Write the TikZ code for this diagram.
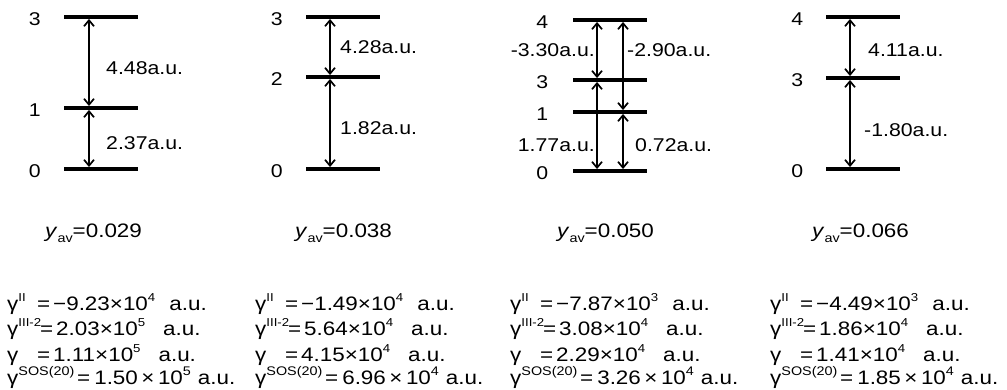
\documentclass[tikz,border=0pt]{standalone}
\usepackage{fontspec}
\setmainfont{Liberation Sans}[FakeStretch=1.15]
\usepackage{tikz}
\usetikzlibrary{arrows.meta,positioning}
\newcommand{\hi}[2][11.5]{\raisebox{0.42em}{\fontsize{#1}{#1}\selectfont #2}}
\newcommand{\lo}[1]{\raisebox{-0.25em}{\fontsize{12.5}{12.5}\selectfont #1}}
\newcommand{\gleft}[2][30pt]{\makebox[#1][l]{#2}\makebox[16pt][l]{=}}

\begin{document}
\begin{tikzpicture}[x=1pt, y=-1pt,
  lvl/.style={fill=black, inner sep=0pt, minimum width=74pt, minimum height=3.5pt},
  num/.style={font=\fontsize{18.5}{20}\selectfont, inner sep=0pt, yshift=-2.5pt},
  arr/.style={{Straight Barb[length=6pt,width=10pt]}-{Straight Barb[length=6pt,width=10pt]}, line width=1.7pt},
  val/.style={font=\fontsize{18.5}{20}\selectfont, inner sep=0pt, anchor=west},
  yav/.style={font=\fontsize{19.5}{20}\selectfont, inner sep=0pt, anchor=base west},
  gam/.style={font=\fontsize{19.5}{20}\selectfont, inner sep=0pt, anchor=base west},
  sos/.style={gam, font=\fontsize{19.5}{20}\selectfont}
]
  \useasboundingbox (0,0) rectangle (1007,390);

  % first scheme: 0 - 1 - 3
  \node[lvl] (a3) at (101,17) {};
  \node[lvl] (a1) at (101,108) {};
  \node[lvl] (a0) at (101,169) {};
  \node[num, left=23pt of a3] (na3) {3};
  \node[num, left=23pt of a1] (na1) {1};
  \node[num, left=23pt of a0] (na0) {0};
  \coordinate (ax) at (89,0);
  \draw[arr] (a3.south -| ax) -- (a1.north -| ax);
  \draw[arr] (a1.south -| ax) -- (a0.north -| ax);
  \node[val] (a31) at (106,68) {4.48a.u.};
  \node[val] (a10) at (106,143) {2.37a.u.};

  % second scheme: 0 - 2 - 3
  \node[lvl] (b3) at (343,17) {};
  \node[lvl] (b2) at (343,77) {};
  \node[lvl] (b0) at (343,169) {};
  \node[num, left=23pt of b3] (nb3) {3};
  \node[num, left=23pt of b2] (nb2) {2};
  \node[num, left=23pt of b0] (nb0) {0};
  \coordinate (bx) at (330,0);
  \draw[arr] (b3.south -| bx) -- (b2.north -| bx);
  \draw[arr] (b2.south -| bx) -- (b0.north -| bx);
  \node[val] (b32) at (340,47) {4.28a.u.};
  \node[val] (b20) at (340,128) {1.82a.u.};

  % third scheme: 0 - 1 - 3 - 4
  \node[lvl] (c4) at (609.5,20) {};
  \node[lvl] (c3) at (609.5,80) {};
  \node[lvl] (c1) at (609.5,112) {};
  \node[lvl] (c0) at (609.5,171) {};
  \node[num, left=24pt of c4] (nc4) {4};
  \node[num, left=24pt of c3] (nc3) {3};
  \node[num, left=24pt of c1] (nc1) {1};
  \node[num, left=24pt of c0] (nc0) {0};
  \coordinate (cx) at (597,0);
  \coordinate (cy) at (623,0);
  \draw[arr] (c4.south -| cx) -- (c3.north -| cx);
  \draw[arr] (c3.south -| cx) -- (c0.north -| cx);
  \draw[arr] (c4.south -| cy) -- (c1.north -| cy);
  \draw[arr] (c1.south -| cy) -- (c0.north -| cy);
  \node[val, anchor=east] (c43) at (595,50) {-3.30a.u.};
  \node[val] (c41) at (627,50) {-2.90a.u.};
  \node[val, anchor=east] (c30) at (595,145) {1.77a.u.};
  \node[val] (c10) at (635,145) {0.72a.u.};

  % fourth scheme: 0 - 3 - 4
  \node[lvl] (d4) at (862.5,17) {};
  \node[lvl] (d3) at (862.5,78) {};
  \node[lvl] (d0) at (862.5,169) {};
  \node[num, left=22pt of d4] (nd4) {4};
  \node[num, left=22pt of d3] (nd3) {3};
  \node[num, left=22pt of d0] (nd0) {0};
  \coordinate (dx) at (850,0);
  \draw[arr] (d4.south -| dx) -- (d3.north -| dx);
  \draw[arr] (d3.south -| dx) -- (d0.north -| dx);
  \node[val] (d43) at (868,50) {4.11a.u.};
  \node[val] (d30) at (864,130) {-1.80a.u.};

  % averaged y values
  \node[yav] (ya) at (45,238) {\textit{y}\lo{av}=0.029};
  \node[yav] (yb) at (295,238) {\textit{y}\lo{av}=0.038};
  \node[yav] (yc) at (557,238) {\textit{y}\lo{av}=0.050};
  \node[yav] (yd) at (812,238) {\textit{y}\lo{av}=0.066};

  % gamma values
  \node[gam] (ga1) at (7,310) {\gleft{γ\hi{II}}−9.23×10\hi{4}\hspace{14pt}a.u.};
  \node[gam] (ga2) at (7,335) {\gleft[33pt]{γ\hi{III-2}}2.03×10\hi{5}\hspace{18pt}a.u.};
  \node[gam] (ga3) at (7,361) {\gleft{γ}1.11×10\hi{5}\hspace{18pt}a.u.};
  \node[sos] (ga4) at (7,384) {\makebox[70pt][l]{γ\hi[12.5]{SOS(20)}}=\hspace{4pt}1.50\hspace{3.5pt}×\hspace{3.5pt}10\hi[12.5]{5}\hspace{7pt}a.u.};

  \node[gam] (gb1) at (255,310) {\gleft{γ\hi{II}}−1.49×10\hi{4}\hspace{14pt}a.u.};
  \node[gam] (gb2) at (255,335) {\gleft[33pt]{γ\hi{III-2}}5.64×10\hi{4}\hspace{18pt}a.u.};
  \node[gam] (gb3) at (255,361) {\gleft{γ}4.15×10\hi{4}\hspace{18pt}a.u.};
  \node[sos] (gb4) at (255,384) {\makebox[70pt][l]{γ\hi[12.5]{SOS(20)}}=\hspace{4pt}6.96\hspace{3.5pt}×\hspace{3.5pt}10\hi[12.5]{4}\hspace{7pt}a.u.};

  \node[gam] (gc1) at (510,310) {\gleft{γ\hi{II}}−7.87×10\hi{3}\hspace{14pt}a.u.};
  \node[gam] (gc2) at (510,335) {\gleft[33pt]{γ\hi{III-2}}3.08×10\hi{4}\hspace{18pt}a.u.};
  \node[gam] (gc3) at (510,361) {\gleft{γ}2.29×10\hi{4}\hspace{18pt}a.u.};
  \node[sos] (gc4) at (510,384) {\makebox[70pt][l]{γ\hi[12.5]{SOS(20)}}=\hspace{4pt}3.26\hspace{3.5pt}×\hspace{3.5pt}10\hi[12.5]{4}\hspace{7pt}a.u.};

  \node[gam] (gd1) at (770,310) {\gleft{γ\hi{II}}−4.49×10\hi{3}\hspace{14pt}a.u.};
  \node[gam] (gd2) at (770,335) {\gleft[33pt]{γ\hi{III-2}}1.86×10\hi{4}\hspace{18pt}a.u.};
  \node[gam] (gd3) at (770,361) {\gleft{γ}1.41×10\hi{4}\hspace{18pt}a.u.};
  \node[sos] (gd4) at (770,384) {\makebox[70pt][l]{γ\hi[12.5]{SOS(20)}}=\hspace{4pt}1.85\hspace{3.5pt}×\hspace{3.5pt}10\hi[12.5]{4}\hspace{7pt}a.u.};
\end{tikzpicture}
\end{document}
